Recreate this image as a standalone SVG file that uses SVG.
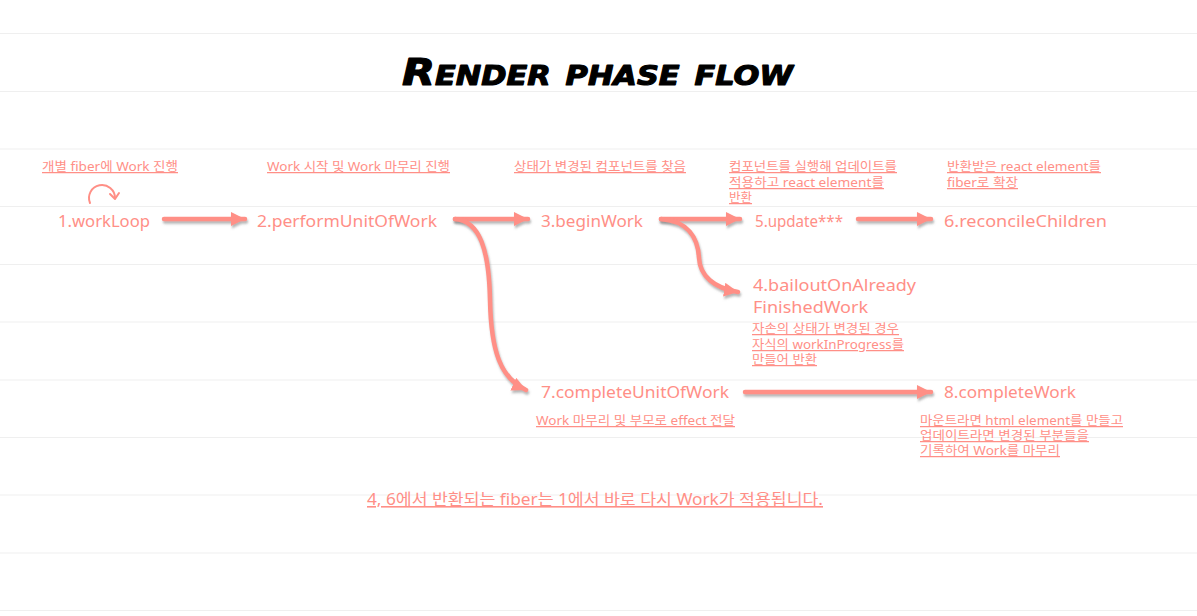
<svg xmlns="http://www.w3.org/2000/svg" width="1197" height="616" viewBox="0 0 1197 616">
<defs>
<style>
.grid line{stroke:#efefef;stroke-width:1}
.title{font-family:"DejaVu Sans",sans-serif;font-weight:bold;font-style:italic;font-variant:small-caps;font-size:38px;fill:#000;stroke:#000;stroke-width:1.2;stroke-linejoin:round}
.node{font-family:"Noto Sans","DejaVu Sans",sans-serif;font-size:16px;fill:#ff8f87}
.note{font-family:"Noto Sans","Noto Sans CJK KR",sans-serif;font-size:12.5px;fill:#ff8f87;text-decoration:underline}
.foot{font-family:"Noto Sans","Noto Sans CJK KR",sans-serif;font-size:16px;fill:#ff8f87;text-decoration:underline}
.arrow{fill:none;stroke:#ff8f86;stroke-width:4.5;stroke-linecap:round;marker-end:url(#head);filter:url(#sh)}
.loop{fill:none;stroke:#ff8f86;stroke-width:2;stroke-linecap:round;stroke-linejoin:round}
</style>
<marker id="head" markerUnits="userSpaceOnUse" markerWidth="16" markerHeight="14" refX="14" refY="7" orient="auto">
<path d="M0,0 L14,7 L0,14 Z" fill="#ff8f86"/>
</marker>
<filter id="sh" filterUnits="userSpaceOnUse" x="0" y="0" width="1197" height="616">
<feDropShadow dx="1" dy="2.5" stdDeviation="1.2" flood-color="#777" flood-opacity="0.55"/>
</filter>
</defs>
<rect width="1197" height="616" fill="#fff"/>
<g class="grid">
<line x1="0" y1="33.5" x2="1197" y2="33.5"/>
<line x1="0" y1="91.5" x2="1197" y2="91.5"/>
<line x1="0" y1="149" x2="1197" y2="149"/>
<line x1="0" y1="206.5" x2="1197" y2="206.5"/>
<line x1="0" y1="264.5" x2="1197" y2="264.5"/>
<line x1="0" y1="322" x2="1197" y2="322"/>
<line x1="0" y1="380" x2="1197" y2="380"/>
<line x1="0" y1="437.5" x2="1197" y2="437.5"/>
<line x1="0" y1="495" x2="1197" y2="495"/>
<line x1="0" y1="553" x2="1197" y2="553"/>
<line x1="0" y1="610.5" x2="1197" y2="610.5"/>
</g>
<text class="title" x="402" y="85" textLength="391" lengthAdjust="spacingAndGlyphs">Render phase flow</text>

<g id="connectors">
<path class="arrow" d="M164,219 L245,219"/>
<path class="arrow" d="M455,219 L528,219"/>
<path class="arrow" d="M661,219 L740,219"/>
<path class="arrow" d="M858,219 L931,219"/>
<path class="arrow" d="M745,392 L931,392"/>
<path class="arrow" d="M455,219 C480,221 489,250 490,300 C491,350 500,378 526,390"/>
<path class="arrow" d="M661,219 C688,221 698,238 699,258 C700,276 714,288 738,292"/>
</g>

<g id="workLoop">
<path class="loop" d="M90,203 A13,13 0 1 1 115,198"/>
<path class="loop" d="M110,194 L115,199 L119,193"/>
<text class="node" x="58" y="227" textLength="92" lengthAdjust="spacingAndGlyphs">1.workLoop</text>
<text class="note" x="42" y="171" textLength="136" lengthAdjust="spacingAndGlyphs">개별 fiber에 Work 진행</text>
</g>
<g id="performUnitOfWork">
<text class="node" x="257" y="227" textLength="180" lengthAdjust="spacingAndGlyphs">2.performUnitOfWork</text>
<text class="note" x="267" y="171" textLength="183" lengthAdjust="spacingAndGlyphs">Work 시작 및 Work 마무리 진행</text>
</g>
<g id="beginWork">
<text class="node" x="541" y="227" textLength="102" lengthAdjust="spacingAndGlyphs">3.beginWork</text>
<text class="note" x="514" y="171" textLength="172" lengthAdjust="spacingAndGlyphs">상태가 변경된 컴포넌트를 찾음</text>
</g>
<g id="update">
<text class="node" x="755" y="227" textLength="88" lengthAdjust="spacingAndGlyphs">5.update***</text>
<text class="note" x="729" y="171" textLength="168" lengthAdjust="spacingAndGlyphs">컴포넌트를 실행해 업데이트를</text>
<text class="note" x="729" y="187" textLength="155" lengthAdjust="spacingAndGlyphs">적용하고 react element를</text>
<text class="note" x="729" y="202">반환</text>
</g>
<g id="reconcileChildren">
<text class="node" x="944" y="227" textLength="163" lengthAdjust="spacingAndGlyphs">6.reconcileChildren</text>
<text class="note" x="947" y="171" textLength="154" lengthAdjust="spacingAndGlyphs">반환받은 react element를</text>
<text class="note" x="947" y="187" textLength="71" lengthAdjust="spacingAndGlyphs">fiber로 확장</text>
</g>
<g id="bailoutOnAlreadyFinishedWork">
<text class="node"><tspan x="753" y="291" textLength="163" lengthAdjust="spacingAndGlyphs">4.bailoutOnAlready</tspan><tspan x="753" y="313" textLength="115" lengthAdjust="spacingAndGlyphs">FinishedWork</tspan></text>
<text class="note" x="752" y="333" textLength="147" lengthAdjust="spacingAndGlyphs">자손의 상태가 변경된 경우</text>
<text class="note" x="752" y="349" textLength="152" lengthAdjust="spacingAndGlyphs">자식의 workInProgress를</text>
<text class="note" x="752" y="364" textLength="65" lengthAdjust="spacingAndGlyphs">만들어 반환</text>
</g>
<g id="completeUnitOfWork">
<text class="node" x="541" y="398" textLength="188" lengthAdjust="spacingAndGlyphs">7.completeUnitOfWork</text>
<text class="note" x="536" y="425" textLength="199" lengthAdjust="spacingAndGlyphs">Work 마무리 및 부모로 effect 전달</text>
</g>
<g id="completeWork">
<text class="node" x="944" y="398" textLength="132" lengthAdjust="spacingAndGlyphs">8.completeWork</text>
<text class="note" x="920" y="425" textLength="203" lengthAdjust="spacingAndGlyphs">마운트라면 html element를 만들고</text>
<text class="note" x="920" y="440" textLength="169" lengthAdjust="spacingAndGlyphs">업데이트라면 변경된 부분들을</text>
<text class="note" x="920" y="455" textLength="140" lengthAdjust="spacingAndGlyphs">기록하여 Work를 마무리</text>
</g>
<text class="foot" x="367" y="505" textLength="456" lengthAdjust="spacingAndGlyphs">4, 6에서 반환되는 fiber는 1에서 바로 다시 Work가 적용됩니다.</text>
</svg>
